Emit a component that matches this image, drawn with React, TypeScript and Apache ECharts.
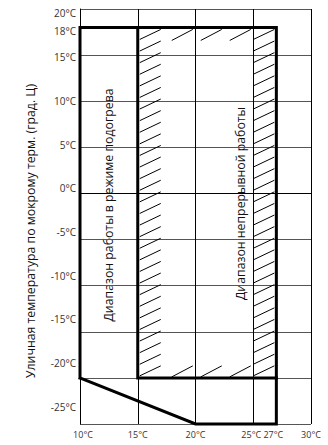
import React, { useEffect, useRef } from "react";
import * as echarts from "echarts";

// ---- data ----
const xTickLabels = [10, 15, 20, 25, 27, 30];
const yTickLabels = [20, 18, 15, 10, 5, 0, -5, -10, -15, -20, -25];
// outline of the heating-mode operating range (x: indoor °C, y: outdoor wet-bulb °C)
const heatingRange = [
  [10, -20],
  [10, 18],
  [27, 18],
  [27, -25],
  [20, -25],
  [10, -20],
];
// inner edges of the continuous operation range
const continuousEdges = [
  [15, 18],
  [15, -20],
  [27, -20],
];
// continuous range rectangle: xmin, xmax, ymin, ymax
const continuousRect = [[15, 27, -20, 18]];
const yTitle = "Уличная температура по мокрому терм. (град. Ц)";
const heatingLabel = "Диапазон работы в режиме подогрева";
const continuousLabel = "Диапазон непрерывной работы";

const FONT = '"Open Sans", sans-serif';

function hatchRender(params: any, api: any) {
  const tl = api.coord([api.value(0), api.value(3)]);
  const br = api.coord([api.value(1), api.value(2)]);
  const L = tl[0], T = tl[1], R = br[0], B = br[1];
  const children: any[] = [];
  const seg = (x1: number, y1: number, x2: number, y2: number) =>
    children.push({
      type: "line",
      shape: { x1, y1, x2, y2 },
      style: { stroke: "#000", lineWidth: 1 },
    });
  const band = 21;
  const dy = 10;
  const step = 11.6;
  for (let y = T + 2; y + dy <= B - 1; y += step) {
    seg(L + 2, y + dy, L + 2 + band, y);
    seg(R - 2 - band, y + dy, R - 2, y);
  }
  for (let x = L + 34; x + band <= R - 22; x += 29) {
    seg(x, T + 13, x + band, T + 2);
    seg(x, B - 1, x + band, B - 12);
  }
  return { type: "group", children };
}

function xLabel(v: number) {
  const t = `${v}°C`;
  if (v === 10) return `{r|${t}}`;
  if (v === 25) return `{l2|${t}}`;
  if (v === 27) return `{l3|${t}}`;
  return `{n|${t}}`;
}

export default function App() {
  const ref = useRef<HTMLDivElement>(null);
  useEffect(() => {
    document.body.style.margin = "0";
    const chart = echarts.init(ref.current!, null, { renderer: "svg" });
    const lab = { fontSize: 9, fontFamily: FONT, color: "#333" };
    const option: any = {
      animation: false,
      grid: {
        left: 80,
        right: 17,
        top: 9,
        bottom: 21,
        containLabel: false,
        outerBoundsMode: "none",
      },
      xAxis: {
        type: "value",
        min: 10,
        max: 30,
        interval: 5,
        axisLine: { show: true, lineStyle: { color: "#000", width: 1 } },
        axisTick: { show: false },
        axisLabel: {
          customValues: xTickLabels,
          formatter: xLabel,
          fontSize: 9,
          fontFamily: FONT,
          color: "#333",
          margin: 6,
          rich: {
            n: { ...lab },
            r: { ...lab, padding: [0, 0, 0, 6] },
            l2: { ...lab, padding: [0, 4, 0, 0] },
            l3: { ...lab, padding: [0, 6, 0, 0] },
          },
        },
        splitLine: { show: true, lineStyle: { color: "#000", width: 1 } },
      },
      yAxis: [
        {
          type: "value",
          position: "left",
          min: -25,
          max: 20,
          interval: 5,
          axisLine: { show: true, lineStyle: { color: "#000", width: 1 } },
          axisTick: { show: false },
          axisLabel: { show: false },
          splitLine: { show: true, lineStyle: { color: "#555", width: 1 } },
        },
        {
          type: "value",
          position: "left",
          min: -26.97,
          max: 20.51,
          axisLine: { show: false },
          axisTick: { show: false },
          splitLine: { show: false },
          axisLabel: {
            customValues: yTickLabels,
            formatter: (v: number) => `${v}°C`,
            fontSize: 10,
            fontFamily: FONT,
            color: "#333",
            margin: 4,
          },
        },
      ],
      series: [
        {
          type: "custom",
          xAxisIndex: 0,
          yAxisIndex: 0,
          encode: { x: [0, 1], y: [2, 3] },
          data: continuousRect,
          renderItem: hatchRender,
          clip: false,
          z: 2,
        },
        {
          type: "line",
          xAxisIndex: 0,
          yAxisIndex: 0,
          data: heatingRange,
          symbol: "none",
          clip: false,
          lineStyle: { color: "#000", width: 3, join: "miter", cap: "square" },
          z: 3,
        },
        {
          type: "line",
          xAxisIndex: 0,
          yAxisIndex: 0,
          data: continuousEdges,
          symbol: "none",
          clip: false,
          lineStyle: { color: "#000", width: 3, join: "miter", cap: "square" },
          z: 3,
        },
      ],
      graphic: [
        {
          type: "text",
          x: 30,
          y: 231,
          rotation: Math.PI / 2,
          style: {
            text: yTitle,
            font: `12.3px ${FONT}`,
            fill: "#111",
            align: "center",
            verticalAlign: "middle",
          },
        },
        {
          type: "text",
          x: 108,
          y: 205,
          rotation: Math.PI / 2,
          style: {
            text: heatingLabel,
            font: `12.3px ${FONT}`,
            fill: "#111",
            align: "center",
            verticalAlign: "middle",
            backgroundColor: "#fff",
            padding: [3, 10],
          },
        },
        {
          type: "text",
          x: 240,
          y: 203.5,
          rotation: Math.PI / 2,
          style: {
            text: continuousLabel,
            font: `12.3px ${FONT}`,
            fill: "#111",
            align: "center",
            verticalAlign: "middle",
            backgroundColor: "#fff",
            padding: [3, 10],
          },
        },
      ],
    };
    chart.setOption(option);
    return () => chart.dispose();
  }, []);
  return <div ref={ref} style={{ width: 328, height: 445 }} />;
}
